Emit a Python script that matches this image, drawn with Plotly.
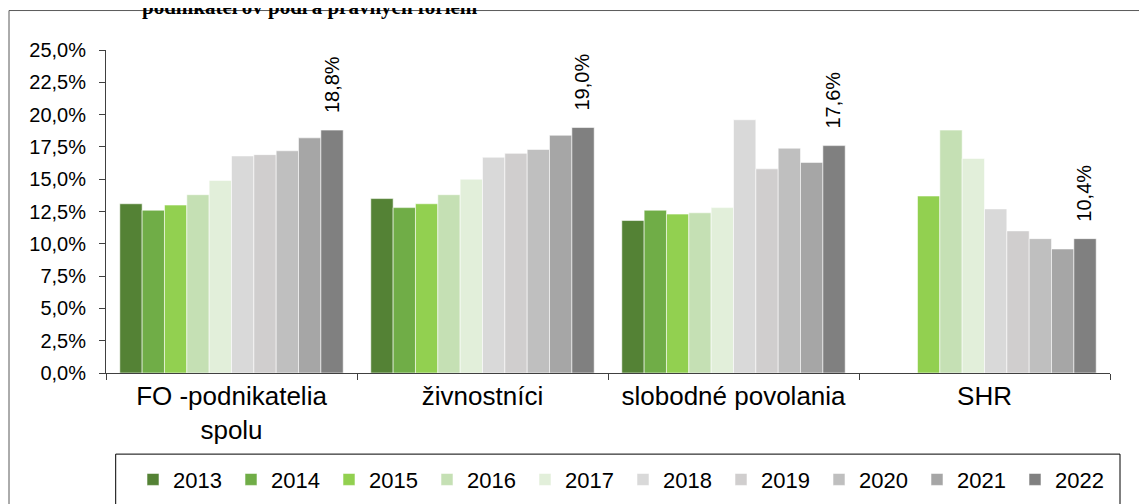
import plotly.graph_objects as go

categories = ["FO -podnikatelia<br>spolu", "živnostníci", "slobodné povolania", "SHR"]
years = ["2013", "2014", "2015", "2016", "2017", "2018", "2019", "2020", "2021", "2022"]
v2013 = [13.1, 13.5, 11.8, None]
v2014 = [12.6, 12.8, 12.6, None]
v2015 = [13.0, 13.1, 12.3, 13.7]
v2016 = [13.8, 13.8, 12.4, 18.8]
v2017 = [14.9, 15.0, 12.8, 16.6]
v2018 = [16.8, 16.7, 19.6, 12.7]
v2019 = [16.9, 17.0, 15.8, 11.0]
v2020 = [17.2, 17.3, 17.4, 10.4]
v2021 = [18.2, 18.4, 16.3, 9.6]
v2022 = [18.8, 19.0, 17.6, 10.4]
series = [v2013, v2014, v2015, v2016, v2017, v2018, v2019, v2020, v2021, v2022]
label_texts = ["18,8%", "19,0%", "17,6%", "10,4%"]
colors = ["#548235", "#70AD47", "#92D050", "#C5E0B4", "#E2EFDA",
          "#D9D9D9", "#D0CECE", "#BFBFBF", "#A6A6A6", "#808080"]

# page body has an 8px margin; compensate so the picture lines up
OFF = 8
W, H = 1147 - OFF, 504 - OFF
L, R = 106 - OFF, 1110 - OFF
TOP, BOT = 50 - OFF, 373.3 - OFF


def px_x(p):
    return (p - OFF - L) / (R - L)


def px_y(p):
    return (BOT - (p - OFF)) / (BOT - TOP)


FONT = "Liberation Sans, Arial, sans-serif"

fig = go.Figure()
for yr, vals, col in zip(years, series, colors):
    fig.add_trace(go.Bar(
        name=yr, x=categories, y=vals,
        marker=dict(color=col, line=dict(color="rgba(255,255,255,0.7)", width=0.8)),
        hoverinfo="skip",
    ))

for cat, val, txt in zip(categories, v2022, label_texts):
    fig.add_annotation(
        x=cat, y=val, xref="x", yref="y", text=txt, showarrow=False,
        textangle=-90, yanchor="bottom", xanchor="center",
        xshift=100, yshift=15,
        font=dict(family=FONT, size=20, color="#000000"),
    )

# cropped title at the top
fig.add_annotation(
    x=px_x(140), y=px_y(7), xref="paper", yref="paper",
    text="<b>podnikateľov podľa právnych foriem</b>", showarrow=False,
    xanchor="left", yanchor="middle",
    font=dict(family="Liberation Serif, Times New Roman, serif", size=21, color="#000000"),
)

# outer chart border
fig.add_shape(type="rect", xref="paper", yref="paper",
              x0=px_x(9), x1=px_x(1160), y0=px_y(520), y1=px_y(10.5),
              line=dict(color="#595959", width=1), fillcolor="rgba(0,0,0,0)", layer="below")
# legend border
fig.add_shape(type="rect", xref="paper", yref="paper",
              x0=px_x(115.7), x1=px_x(1120), y0=px_y(520), y1=px_y(454.5),
              line=dict(color="#000000", width=1), fillcolor="rgba(0,0,0,0)")

fig.update_layout(
    width=W, height=H,
    margin=dict(l=L, r=W - R, t=TOP, b=H - BOT, pad=0, autoexpand=False),
    paper_bgcolor="white", plot_bgcolor="white",
    barmode="group", bargap=0.11, bargroupgap=0,
    separators=", ",
    font=dict(family=FONT, color="#000000"),
    showlegend=True,
    legend=dict(
        orientation="h", x=px_x(133), y=px_y(459), xanchor="left", yanchor="top",
        font=dict(family=FONT, size=22, color="#000000"),
        itemwidth=30, entrywidth=53, entrywidthmode="pixels",
        borderwidth=0, bgcolor="rgba(0,0,0,0)", traceorder="normal",
        itemclick=False, itemdoubleclick=False,
    ),
    xaxis=dict(
        type="category", showline=True, linecolor="#404040", linewidth=1,
        ticks="outside", tickson="boundaries", ticklen=6, tickcolor="#404040",
        tickfont=dict(family=FONT, size=26, color="#000000"),
        showgrid=False, zeroline=False, fixedrange=True, automargin=False,
    ),
    yaxis=dict(
        range=[0, 25], dtick=2.5, tick0=0, tickformat=".1f", ticksuffix="%",
        showline=True, linecolor="#404040", linewidth=1,
        ticks="outside", ticklen=6, tickcolor="#404040",
        ticklabelstandoff=9,
        tickfont=dict(family=FONT, size=20, color="#000000"),
        showgrid=False, zeroline=False, fixedrange=True, automargin=False,
    ),
)

fig.write_html("out.html")
